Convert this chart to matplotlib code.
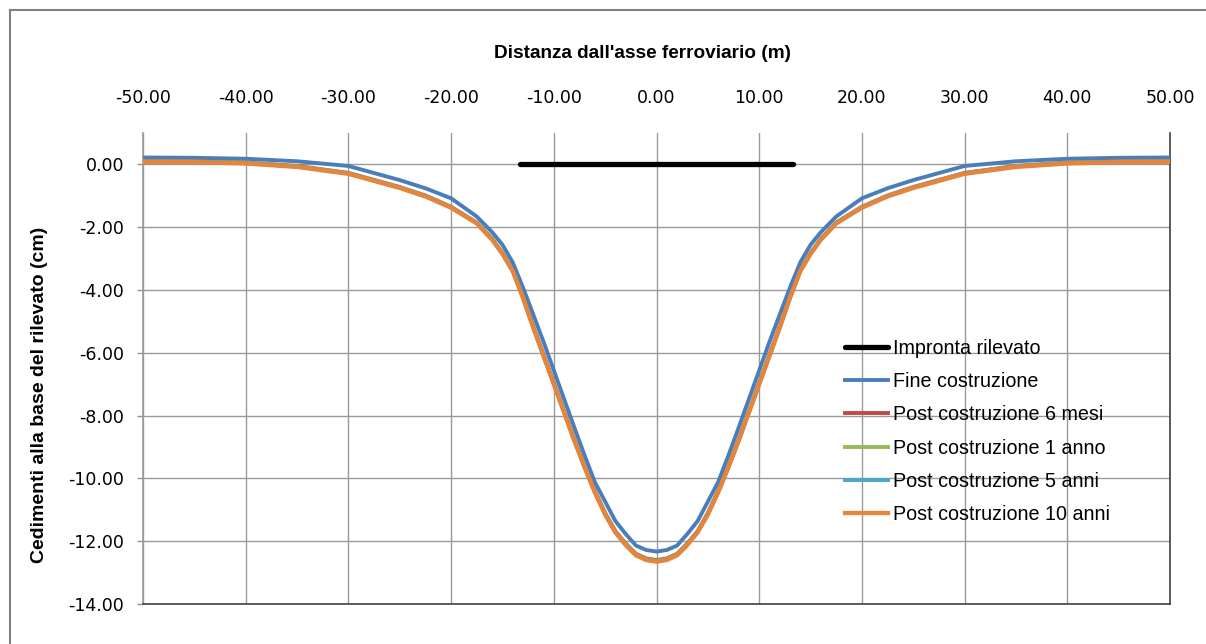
import numpy as np
import matplotlib
matplotlib.use('Agg')
import matplotlib.pyplot as plt
from matplotlib.lines import Line2D

# Dati (curve simmetriche rispetto all'asse)
x_half = [0, 1, 2, 3, 4, 5, 6, 7, 8, 9, 10, 11, 12, 13, 14, 15, 16, 17.5, 20, 22.5, 25, 30, 35, 40, 45, 50]
fine_costruzione = [-12.33, -12.28, -12.14, -11.77, -11.36, -10.74, -10.12, -9.27, -8.38, -7.47, -6.56, -5.65,
                    -4.78, -3.92, -3.12, -2.56, -2.16, -1.66, -1.08, -0.76, -0.50, -0.05, 0.10, 0.18, 0.21, 0.22]
post_6_mesi = [-12.60, -12.55, -12.40, -12.07, -11.68, -11.10, -10.40, -9.62, -8.76, -7.86, -6.96, -6.06,
               -5.16, -4.22, -3.37, -2.82, -2.37, -1.85, -1.35, -0.99, -0.72, -0.27, -0.05, 0.06, 0.10, 0.11]
post_1_anno = [-12.62, -12.57, -12.42, -12.09, -11.70, -11.12, -10.42, -9.63, -8.78, -7.88, -6.98, -6.08,
               -5.18, -4.23, -3.38, -2.83, -2.38, -1.86, -1.36, -1.00, -0.73, -0.28, -0.06, 0.05, 0.09, 0.10]
post_5_anni = [-12.64, -12.59, -12.44, -12.11, -11.71, -11.14, -10.44, -9.64, -8.79, -7.89, -6.99, -6.09,
               -5.19, -4.24, -3.39, -2.84, -2.39, -1.87, -1.37, -1.01, -0.74, -0.29, -0.07, 0.04, 0.08, 0.09]
post_10_anni = [-12.65, -12.60, -12.45, -12.12, -11.72, -11.15, -10.45, -9.65, -8.80, -7.90, -7.00, -6.10,
                -5.20, -4.25, -3.40, -2.85, -2.40, -1.88, -1.38, -1.02, -0.75, -0.30, -0.08, 0.03, 0.07, 0.08]

impronta_x = [-13.3, 13.3]
impronta_y = [0.0, 0.0]

xticks = [-50, -40, -30, -20, -10, 0, 10, 20, 30, 40, 50]
yticks = [-14, -12, -10, -8, -6, -4, -2, 0]

serie = [
    ('Fine costruzione', fine_costruzione, '#4A7EBB', 2.8),
    ('Post costruzione 6 mesi', post_6_mesi, '#BE4B48', 2.8),
    ('Post costruzione 1 anno', post_1_anno, '#98B954', 2.8),
    ('Post costruzione 5 anni', post_5_anni, '#46AAC5', 2.8),
    ('Post costruzione 10 anni', post_10_anni, '#E5843A', 3.1),
]


def simmetrico(xs, ys):
    # ricostruisce la curva intera specchiando la metà destra
    xs_full = [-v for v in xs[:0:-1]] + list(xs)
    ys_full = list(ys[:0:-1]) + list(ys)
    return xs_full, ys_full


W, H = 1206, 644
fig = plt.figure(figsize=(W / 100, H / 100), dpi=100)
fig.patch.set_facecolor('white')

ax = fig.add_axes([143 / W, (H - 604) / H, (1170 - 143) / W, (604 - 133) / H])

ax.plot(impronta_x, impronta_y, color='black', lw=3.8, solid_capstyle='round', label='Impronta rilevato', zorder=3)
for nome, valori, colore, lw in serie:
    xs, ys = simmetrico(x_half, valori)
    ax.plot(xs, ys, color=colore, lw=lw, label=nome, zorder=3)

ax.set_xlim(-50, 50)
ax.set_ylim(-14, 1)
ax.set_xticks(xticks)
ax.set_yticks(yticks)
ax.set_xticklabels([f'{v:.2f}' for v in xticks])
ax.set_yticklabels([f'{v:.2f}' for v in yticks])

ax.xaxis.tick_top()
ax.tick_params(axis='x', length=0, pad=19, labelsize=12.5, colors='black')
ax.tick_params(axis='y', length=4.5, width=1, color='#909090', pad=9, labelsize=12.5)

ax.grid(True, color='#9A9A9A', lw=1)
ax.set_axisbelow(True)

ax.spines['top'].set_visible(False)
ax.spines['left'].set_color('#9A9A9A')
ax.spines['bottom'].set_color('#404040')
ax.spines['right'].set_color('#404040')
for s in ax.spines.values():
    s.set_linewidth(1.2)

fig.text(643 / W, 1 - 53 / H, "Distanza dall'asse ferroviario (m)", ha='center', va='center',
         fontsize=13.7, fontweight='bold', family='Liberation Sans')
fig.text(40 / W, 1 - 395 / H, 'Cedimenti alla base del rilevato (cm)', ha='center', va='center',
         rotation=90, fontsize=14, fontweight='bold', family='Liberation Sans')

leg = ax.legend(loc='upper left', bbox_to_anchor=(845 / W, 1 - 339 / H), bbox_transform=fig.transFigure,
                frameon=False, borderpad=0, borderaxespad=0, handlelength=2.2, handletextpad=0.25,
                labelspacing=0.72, prop={'family': 'Liberation Sans', 'size': 14.2})

# cornice esterna del grafico
fig.add_artist(Line2D([10 / W, 10 / W], [0, 1 - 10 / H], transform=fig.transFigure, color='#7F7F7F', lw=1.5))
fig.add_artist(Line2D([10 / W, 1], [1 - 10 / H, 1 - 10 / H], transform=fig.transFigure, color='#7F7F7F', lw=1.5))

fig.savefig('out.png', dpi=100)
